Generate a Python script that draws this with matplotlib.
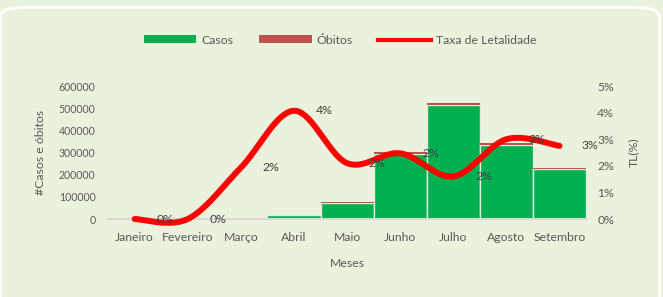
import numpy as np
import matplotlib
matplotlib.use("Agg")
import matplotlib.pyplot as plt
from matplotlib.patches import FancyBboxPatch, Patch
from matplotlib.lines import Line2D

meses = ["Janeiro", "Fevereiro", "Março", "Abril", "Maio", "Junho",
         "Julho", "Agosto", "Setembro"]
casos = [0, 0, 1500, 19000, 73000, 293000, 515000, 334000, 225000]
obitos = [0, 0, 40, 800, 2000, 7200, 8200, 10500, 6500]
taxa = [0.0, 0.0, 0.0193, 0.0407, 0.021, 0.0247, 0.016, 0.030, 0.0275]
yticks = [0, 100000, 200000, 300000, 400000, 500000, 600000]

BG = "#EAF1DD"
TXT = "#595959"
GREEN = "#00B050"
BRICK = "#C0504D"
RED = "#FF0000"
FS = 8.8

plt.rcParams.update({"font.family": ["Lato", "DejaVu Sans"], "font.size": FS})


def smooth(x, y, n=40):
    # Excel-like smoothed line: Catmull-Rom segments as cubic Bezier
    x = np.asarray(x, float); y = np.asarray(y, float)
    xs, ys = [], []
    t = np.linspace(0, 1, n)[:, None]
    pts = np.column_stack([x, y])
    for i in range(len(pts) - 1):
        p0 = pts[max(i - 1, 0)]; p1 = pts[i]; p2 = pts[i + 1]
        p3 = pts[min(i + 2, len(pts) - 1)]
        b1 = p1 + (p2 - p0) / 6; b2 = p2 - (p3 - p1) / 6
        seg = ((1 - t) ** 3) * p1 + 3 * ((1 - t) ** 2) * t * b1 \
            + 3 * (1 - t) * t ** 2 * b2 + t ** 3 * p2
        xs.append(seg[:, 0]); ys.append(seg[:, 1])
    return np.concatenate(xs), np.concatenate(ys)


fig = plt.figure(figsize=(6.63, 2.97), dpi=100)
fig.patch.set_facecolor(BG)
fig.patches.append(FancyBboxPatch((0.0, -0.03), 0.995, 1.005, transform=fig.transFigure,
                                  boxstyle="round,pad=0,rounding_size=0.035",
                                  facecolor=BG, edgecolor="white", lw=2, zorder=-10))

ax = fig.add_axes([0.163, 0.2626, 0.721, 0.4478])
ax.set_facecolor("none")
x = np.arange(len(meses))
ax.bar(x, casos, width=1.0, color=GREEN, edgecolor="#E4ECDA", lw=1, zorder=2)
ax.bar(x, obitos, bottom=casos, width=1.0, color=BRICK, edgecolor="none", zorder=2)
ax.set_xlim(-0.5, 8.5)
ax.set_ylim(0, 600000)
ax.set_yticks(yticks)
ax.set_xticks(x)
ax.set_xticklabels(meses)
for s in ["top", "right", "left"]:
    ax.spines[s].set_visible(False)
ax.spines["bottom"].set_color("#D9D9D9")
ax.spines["bottom"].set_linewidth(1.5)
ax.tick_params(axis="both", length=0, colors=TXT, labelsize=FS)
ax.tick_params(axis="x", pad=9)
ax.tick_params(axis="y", pad=9, labelsize=7.6)
ax.set_ylabel("#Casos e óbitos", color=TXT, fontsize=FS, labelpad=9)
ax.set_xlabel("Meses", color=TXT, fontsize=FS, labelpad=11)

ax2 = ax.twinx()
ax2.set_ylim(0, 0.05)
ax2.set_yticks(np.arange(0, 0.051, 0.01))
ax2.set_yticklabels([f"{v:.0f}%" for v in np.arange(0, 5.1, 1)])
for s in ax2.spines.values():
    s.set_visible(False)
ax2.tick_params(axis="y", length=0, colors=TXT, labelsize=FS, pad=8)
ax2.set_ylabel("TL(%)", color=TXT, fontsize=FS, labelpad=10)

sx, sy = smooth(x, taxa)
ax2.plot(sx, sy, color=RED, lw=4.3, solid_capstyle="round", zorder=3, clip_on=False)
for xi, v in zip(x, taxa):
    ax2.text(xi + 0.41, v, f"{v * 100:.0f}%", ha="left", va="center",
             color="#404040", fontsize=FS, zorder=4)

handles = [Patch(facecolor=GREEN, label="Casos"),
           Patch(facecolor=BRICK, label="Óbitos"),
           Line2D([0], [0], color=RED, lw=3, label="Taxa de Letalidade")]
leg = fig.legend(handles=handles, loc="center", bbox_to_anchor=(0.513, 0.865), ncol=3,
                 frameon=False, handlelength=4.3, handleheight=0.6, columnspacing=2.1,
                 handletextpad=0.4, fontsize=FS)
for t in leg.get_texts():
    t.set_color(TXT)

fig.savefig("out.png", dpi=100, facecolor=BG)
